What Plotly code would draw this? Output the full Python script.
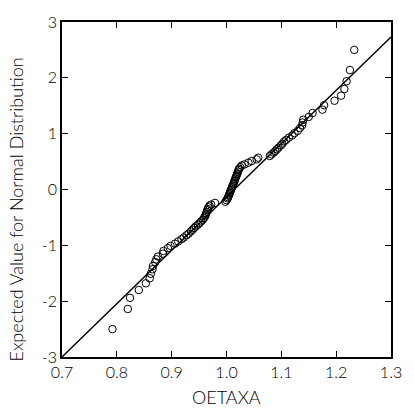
import plotly.graph_objects as go

# Observed OETAXA values (sorted) and expected normal scores
oetaxa = [
    0.792, 0.820, 0.824, 0.840, 0.853, 0.860, 0.862, 0.865, 0.866, 0.870,
    0.872, 0.875, 0.884, 0.885, 0.893, 0.898, 0.906, 0.912, 0.918, 0.922,
    0.927, 0.931, 0.935, 0.938, 0.941, 0.944, 0.948, 0.951, 0.954, 0.957,
    0.959, 0.961, 0.962, 0.963, 0.964, 0.965, 0.966, 0.967, 0.969, 0.972,
    0.979, 0.998, 1.000, 1.002, 1.003, 1.004, 1.005, 1.006, 1.007, 1.008,
    1.009, 1.010, 1.011, 1.012, 1.013, 1.014, 1.015, 1.016, 1.017, 1.018,
    1.019, 1.020, 1.021, 1.022, 1.023, 1.025, 1.028, 1.033, 1.040, 1.046,
    1.055, 1.058, 1.079, 1.082, 1.086, 1.089, 1.092, 1.095, 1.099, 1.102,
    1.105, 1.109, 1.114, 1.120, 1.124, 1.130, 1.134, 1.138, 1.139, 1.140,
    1.150, 1.157, 1.175, 1.178, 1.197, 1.209, 1.215, 1.219, 1.225, 1.233,
]
expected = [
    -2.50, -2.14, -1.94, -1.80, -1.68, -1.59, -1.51, -1.43, -1.37, -1.30,
    -1.25, -1.20, -1.15, -1.10, -1.05, -1.01, -0.97, -0.93, -0.89, -0.86,
    -0.82, -0.79, -0.75, -0.72, -0.69, -0.66, -0.63, -0.60, -0.57, -0.54,
    -0.51, -0.48, -0.45, -0.43, -0.40, -0.37, -0.35, -0.32, -0.29, -0.27,
    -0.24, -0.22, -0.19, -0.16, -0.14, -0.11, -0.09, -0.06, -0.04, -0.01,
    0.01, 0.04, 0.06, 0.09, 0.11, 0.14, 0.16, 0.19, 0.22, 0.24,
    0.27, 0.29, 0.32, 0.35, 0.37, 0.40, 0.43, 0.45, 0.48, 0.51,
    0.54, 0.57, 0.60, 0.63, 0.66, 0.69, 0.72, 0.75, 0.79, 0.82,
    0.86, 0.89, 0.93, 0.97, 1.01, 1.05, 1.10, 1.15, 1.20, 1.25,
    1.30, 1.37, 1.43, 1.51, 1.59, 1.68, 1.80, 1.94, 2.14, 2.50,
]

# Reference normal line: y = (x - mean) / sd
line_mean = 1.014
line_sd = 0.1047
line_x = [0.7, 1.3]
line_y = [(v - line_mean) / line_sd for v in line_x]

x_ticks = [0.7, 0.8, 0.9, 1.0, 1.1, 1.2, 1.3]
x_ticktext = ["0.7", "0.8", "0.9", "1.0", "1.1", "1.2", "1.3"]
y_ticks = [-3, -2, -1, 0, 1, 2, 3]
y_ticktext = ["-3", "-2", "-1", "0", "1", "2", "3"]

x_title = "OETAXA"
y_title = "Expected Value for Normal Distribution"

FONT = "Lato"
TXT = "#000000"

fig = go.Figure()
fig.add_trace(go.Scatter(
    x=line_x, y=line_y, mode="lines",
    line=dict(color="black", width=1.5), hoverinfo="skip", showlegend=False,
))
fig.add_trace(go.Scatter(
    x=oetaxa, y=expected, mode="markers",
    marker=dict(symbol="circle-open", size=7.5, color="black", line=dict(width=1)),
    showlegend=False,
))

axis_common = dict(
    showline=True, linecolor="black", linewidth=1.5, mirror="ticks",
    ticks="inside", ticklen=6, tickwidth=1.2, tickcolor="black",
    showgrid=False, zeroline=False,
    tickfont=dict(family=FONT, size=16, color=TXT, weight=300),
)

fig.update_layout(
    width=414, height=408,
    margin=dict(l=62, r=13, t=20, b=51),
    paper_bgcolor="white", plot_bgcolor="white",
    font=dict(family=FONT, color=TXT),
    xaxis=dict(range=[0.7, 1.3], tickvals=x_ticks, ticktext=x_ticktext, **axis_common),
    yaxis=dict(range=[-3, 3], tickvals=y_ticks, ticktext=y_ticktext, **axis_common),
    annotations=[
        dict(text=x_title, xref="paper", yref="paper", x=0.5, y=-0.118,
             xanchor="center", yanchor="middle", showarrow=False,
             font=dict(family=FONT, size=18, color=TXT, weight=300)),
        dict(text=y_title, xref="paper", yref="paper", x=-0.140, y=0.44,
             xanchor="center", yanchor="middle", textangle=-90, showarrow=False,
             font=dict(family=FONT, size=18, color=TXT, weight=300)),
    ],
)

fig.write_html("out.html")
